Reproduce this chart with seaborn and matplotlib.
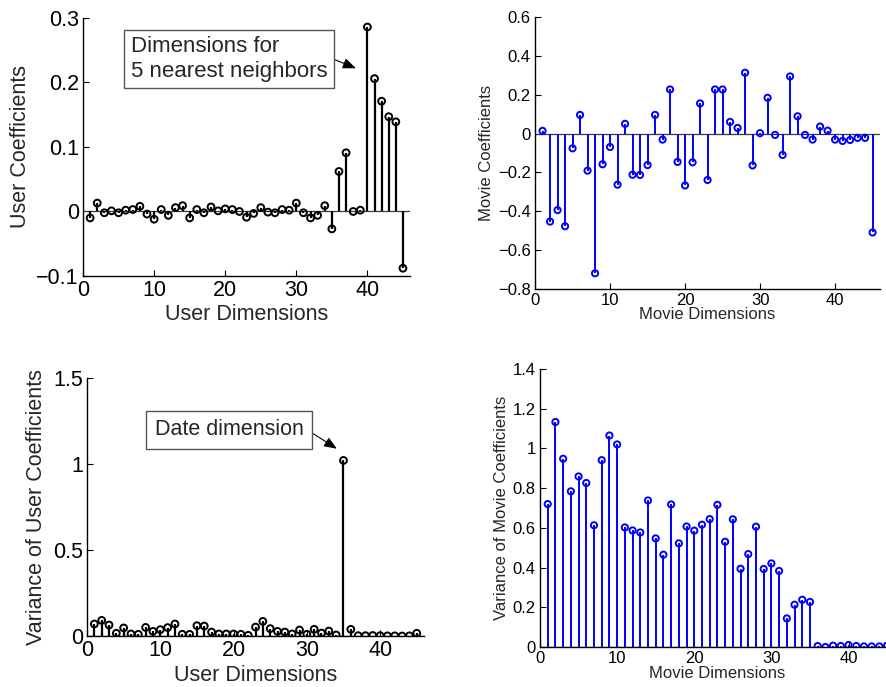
import numpy as np
import pandas as pd
import matplotlib
matplotlib.use("Agg")
import matplotlib.pyplot as plt
import seaborn as sns

dims = list(range(1, 46))

user_coef = [-0.010, 0.013, -0.002, 0.001, -0.002, 0.002, 0.003, 0.008, -0.004, -0.012,
             0.003, -0.006, 0.006, 0.009, -0.010, 0.003, -0.002, 0.007, 0.001, 0.004,
             0.003, 0.000, -0.009, -0.003, 0.006, -0.001, -0.002, 0.003, 0.002, 0.013,
             -0.002, -0.010, -0.006, 0.009, -0.027, 0.062, 0.091, 0.000, 0.002, 0.286,
             0.206, 0.171, 0.147, 0.139, -0.088]

movie_coef = [0.014, -0.453, -0.394, -0.477, -0.076, 0.096, -0.191, -0.719, -0.158, -0.069,
              -0.263, 0.050, -0.212, -0.213, -0.162, 0.096, -0.031, 0.227, -0.146, -0.267,
              -0.148, 0.155, -0.239, 0.227, 0.227, 0.060, 0.029, 0.313, -0.164, 0.002,
              0.184, -0.007, -0.110, 0.294, 0.089, -0.007, -0.031, 0.036, 0.015, -0.031,
              -0.038, -0.033, -0.022, -0.022, -0.509]

user_var = [0.070, 0.091, 0.064, 0.016, 0.047, 0.012, 0.010, 0.050, 0.027, 0.037,
            0.049, 0.070, 0.010, 0.010, 0.060, 0.058, 0.023, 0.012, 0.012, 0.012,
            0.010, 0.004, 0.052, 0.085, 0.043, 0.027, 0.023, 0.012, 0.035, 0.010,
            0.039, 0.017, 0.029, 0.006, 1.021, 0.039, 0.002, 0.002, 0.003, 0.002,
            0.001, 0.001, 0.000, 0.001, 0.016]

movie_var = [0.720, 1.133, 0.948, 0.784, 0.859, 0.826, 0.613, 0.941, 1.065, 1.020,
             0.602, 0.587, 0.577, 0.738, 0.547, 0.465, 0.718, 0.522, 0.607, 0.586,
             0.616, 0.644, 0.716, 0.530, 0.643, 0.394, 0.468, 0.606, 0.393, 0.421,
             0.383, 0.144, 0.213, 0.238, 0.227, 0.005, 0.000, 0.007, 0.005, 0.010,
             0.005, 0.003, 0.003, 0.003, 0.007]

sns.set_style("ticks")
plt.rcParams["font.family"] = ["Liberation Sans", "DejaVu Sans"]
plt.rcParams["xtick.direction"] = "in"
plt.rcParams["ytick.direction"] = "in"

fig = plt.figure(figsize=(8.87, 6.87), dpi=100)

BIG = 15.5
SMALL = 12


def stem(ax, values, color, lw, big):
    df = pd.DataFrame({"dim": dims, "val": values})
    ax.vlines(df["dim"], 0, df["val"], color=color, lw=lw, zorder=2)
    ax.axhline(0, color="#3a3a3a", lw=0.9, zorder=1)
    sns.scatterplot(data=df, x="dim", y="val", ax=ax, marker="o", s=24 if big else 20,
                    facecolors="none", edgecolor=color, linewidth=1.4, zorder=3, legend=False)
    for s in ["top", "right"]:
        ax.spines[s].set_visible(False)
    for s in ["left", "bottom"]:
        ax.spines[s].set_linewidth(1.0)
        ax.spines[s].set_color("black")
    fs = BIG if big else SMALL
    ax.tick_params(axis="both", labelsize=fs, length=4, width=0.8, pad=3, colors="black")
    return fs


arrow = dict(arrowstyle="-|>,head_length=0.5,head_width=0.2", color="black",
             lw=0.8, shrinkA=0, shrinkB=0)

# Top-left
ax1 = fig.add_axes([0.0936, 0.5983, 0.3687, 0.3755])
fs = stem(ax1, user_coef, "black", 1.6, True)
ax1.set_xlim(0, 46)
ax1.set_ylim(-0.1, 0.3)
ax1.set_xticks([0, 10, 20, 30, 40])
ax1.set_yticks([-0.1, 0, 0.1, 0.2, 0.3])
ax1.set_yticklabels(["\u22120.1", "0", "0.1", "0.2", "0.3"])
ax1.set_xlabel("User Dimensions", fontsize=fs, labelpad=2)
ax1.set_ylabel("User Coefficients", fontsize=fs, labelpad=4)
ax1.annotate("Dimensions for\n5 nearest neighbors", xy=(38.4, 0.222), xytext=(20.55, 0.2365),
             textcoords="data", ha="center", va="center", fontsize=16, multialignment="left",
             bbox=dict(boxstyle="square,pad=0.3", fc="white", ec="#555555", lw=1.0),
             arrowprops=dict(arrow, relpos=(1.0, 0.55)))

# Top-right
ax2 = fig.add_axes([0.6032, 0.5793, 0.389, 0.396])
fs = stem(ax2, movie_coef, "blue", 1.4, False)
ax2.set_xlim(0, 46)
ax2.set_ylim(-0.8, 0.6)
ax2.set_xticks([0, 10, 20, 30, 40])
ax2.set_yticks(np.arange(-0.8, 0.61, 0.2))
ax2.set_yticklabels(["\u22120.8", "\u22120.6", "\u22120.4", "\u22120.2", "0", "0.2", "0.4", "0.6"])
ax2.set_xlabel("Movie Dimensions", fontsize=SMALL, labelpad=-1)
ax2.set_ylabel("Movie Coefficients", fontsize=SMALL, labelpad=3)

# Bottom-left
ax3 = fig.add_axes([0.0981, 0.0742, 0.380, 0.3755])
fs = stem(ax3, user_var, "black", 1.6, True)
ax3.set_xlim(0, 46)
ax3.set_ylim(0, 1.5)
ax3.set_xticks([0, 10, 20, 30, 40])
ax3.set_yticks([0, 0.5, 1, 1.5])
ax3.set_yticklabels(["0", "0.5", "1", "1.5"])
ax3.set_xlabel("User Dimensions", fontsize=fs, labelpad=3)
ax3.set_ylabel("Variance of User Coefficients", fontsize=fs, labelpad=4)
ax3.annotate("Date dimension", xy=(34.1, 1.089), xytext=(19.4, 1.20),
             textcoords="data", ha="center", va="center", fontsize=15.5,
             bbox=dict(boxstyle="square,pad=0.4", fc="white", ec="#555555", lw=1.0),
             arrowprops=dict(arrow, relpos=(1.0, 0.6)))

# Bottom-right
ax4 = fig.add_axes([0.6088, 0.0582, 0.400, 0.4047])
fs = stem(ax4, movie_var, "blue", 1.4, False)
ax4.set_xlim(0, 46)
ax4.set_ylim(0, 1.4)
ax4.set_xticks([0, 10, 20, 30, 40])
ax4.set_yticks(np.arange(0, 1.41, 0.2))
ax4.set_yticklabels(["0", "0.2", "0.4", "0.6", "0.8", "1", "1.2", "1.4"])
ax4.set_xlabel("Movie Dimensions", fontsize=SMALL, labelpad=0)
ax4.set_ylabel("Variance of Movie Coefficients", fontsize=SMALL, labelpad=3)

fig.savefig("out.png", dpi=100)
